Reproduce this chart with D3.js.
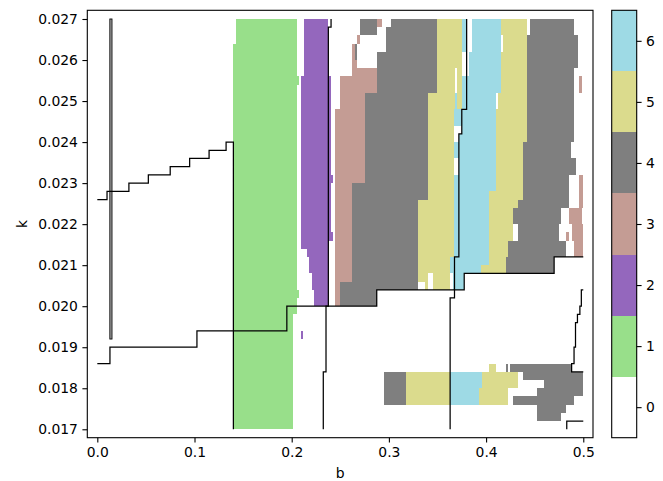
<!DOCTYPE html>
<html><head><meta charset="utf-8">
<script src="https://cdn.jsdelivr.net/npm/d3@7"></script>
<style>body{margin:0;background:#fff}svg text{font-family:"DejaVu Sans",sans-serif;font-size:13.9px;fill:#000}</style>
</head><body><svg id="c" width="663" height="481"></svg>
<script>
// ---- data ----
const levelColors = ["#ffffff","#98df8a","#9467bd","#c49c94","#7f7f7f","#dbdb8d","#9edae5"];
const levelLabels = ["0","1","2","3","4","5","6"];
const xTicks = [0.0,0.1,0.2,0.3,0.4,0.5];
const yTicks = [0.017,0.018,0.019,0.020,0.021,0.022,0.023,0.024,0.025,0.026,0.027];
// cells: [b0, b1, kLow, kHigh]
const level1 = [
 [0.1425,0.205,0.0264,0.0270],[0.14,0.205,0.0200,0.0264],[0.205,0.2075,0.0254,0.0256],
 [0.205,0.2075,0.0202,0.0204],[0.14,0.205,0.0198,0.0200],[0.14,0.2015,0.0170,0.0198]
];
const level2 = [
 [0.2125,0.237,0.0256,0.0270],[0.21,0.237,0.0214,0.0256],[0.2155,0.237,0.0212,0.0214],
 [0.2175,0.237,0.0208,0.0212],[0.2205,0.237,0.0204,0.0208],[0.223,0.237,0.0200,0.0204],
 [0.237,0.2405,0.0218,0.0256],[0.237,0.2425,0.0230,0.0232],[0.2375,0.2425,0.0216,0.0218],
 [0.21,0.2115,0.0192,0.0194]
];
const level3 = [
 [0.2875,0.2925,0.0268,0.0270],[0.2675,0.27,0.0264,0.0266],[0.2625,0.2675,0.0258,0.0264],
 [0.2625,0.2875,0.0256,0.0258],[0.25,0.2875,0.0252,0.0256],[0.25,0.275,0.0248,0.0252],
 [0.245,0.275,0.0230,0.0248],[0.245,0.2625,0.0206,0.0230],[0.245,0.25,0.0200,0.0206],
 [0.496,0.4985,0.0252,0.0256],[0.496,0.5,0.0224,0.0232],[0.4855,0.4985,0.0220,0.0224],
 [0.488,0.5,0.0216,0.0220],[0.4825,0.4855,0.0216,0.0218],[0.4905,0.5,0.0212,0.0216]
];
const level4 = [
 [0.27,0.2875,0.0266,0.0270],[0.3025,0.35,0.0268,0.0270],[0.2975,0.35,0.0262,0.0268],
 [0.2875,0.35,0.0252,0.0262],[0.265,0.2675,0.0260,0.0264],[0.275,0.34,0.0230,0.0252],
 [0.2625,0.34,0.0226,0.0230],[0.2625,0.33,0.0206,0.0226],[0.25,0.33,0.0204,0.0206],
 [0.25,0.2875,0.0200,0.0204],
 [0.445,0.49,0.0266,0.0270],[0.4425,0.495,0.0258,0.0266],[0.4425,0.49,0.0240,0.0258],
 [0.4375,0.4875,0.0236,0.0240],[0.4375,0.4925,0.0232,0.0236],[0.4375,0.4855,0.0226,0.0232],
 [0.4325,0.4855,0.0224,0.0226],[0.4275,0.4775,0.0220,0.0224],[0.4325,0.475,0.0216,0.0220],
 [0.4225,0.4825,0.0212,0.0216],[0.42,0.47,0.0208,0.0212],
 [0.295,0.3175,0.0176,0.0184],[0.42,0.4225,0.0184,0.0186],[0.425,0.4875,0.0184,0.0186],
 [0.4375,0.5,0.0182,0.0184],[0.46,0.5,0.0180,0.0182],[0.4525,0.5,0.0178,0.0180],
 [0.4275,0.49,0.0176,0.0178],[0.4525,0.4825,0.0174,0.0176],[0.4525,0.4775,0.0172,0.0174]
];
const level5 = [
 [0.35,0.375,0.0258,0.0270],[0.35,0.368,0.0252,0.0258],[0.3705,0.375,0.0252,0.0258],
 [0.34,0.368,0.0248,0.0252],[0.3705,0.375,0.0248,0.0252],[0.34,0.3675,0.0226,0.0248],
 [0.33,0.3675,0.0212,0.0226],[0.33,0.3625,0.0208,0.0212],[0.33,0.34,0.0206,0.0208],
 [0.345,0.3625,0.0206,0.0208],[0.3375,0.34,0.0204,0.0206],[0.345,0.3625,0.0204,0.0206],
 [0.415,0.4425,0.0266,0.0270],[0.4175,0.4425,0.0262,0.0266],[0.415,0.4425,0.0252,0.0262],
 [0.4125,0.4425,0.0248,0.0252],[0.41,0.4425,0.0240,0.0248],[0.41,0.4375,0.0228,0.0240],
 [0.4025,0.4375,0.0226,0.0228],[0.4025,0.4325,0.0224,0.0226],[0.4025,0.4275,0.0216,0.0224],
 [0.4025,0.4225,0.0212,0.0216],[0.4025,0.42,0.0210,0.0212],[0.395,0.42,0.0208,0.0210],
 [0.3175,0.3625,0.0176,0.0184],[0.3955,0.4325,0.0182,0.0184],[0.3955,0.4325,0.0180,0.0182],
 [0.393,0.4225,0.0176,0.0180],[0.4025,0.41,0.0184,0.0186]
];
const level6 = [
 [0.375,0.38,0.0262,0.0270],[0.385,0.415,0.0262,0.0270],[0.3825,0.415,0.0256,0.0262],
 [0.375,0.38,0.0252,0.0256],[0.38,0.415,0.0252,0.0256],[0.368,0.3705,0.0248,0.0252],
 [0.375,0.41,0.0248,0.0252],[0.375,0.41,0.0242,0.0248],[0.372,0.41,0.0228,0.0242],
 [0.372,0.4025,0.0212,0.0228],[0.3625,0.4025,0.0210,0.0212],[0.3625,0.395,0.0208,0.0210],
 [0.366,0.3775,0.0204,0.0208],[0.3675,0.375,0.0244,0.0248],[0.3675,0.372,0.0236,0.0240],
 [0.3675,0.372,0.0212,0.0232],
 [0.3625,0.3955,0.0180,0.0184],[0.3625,0.393,0.0176,0.0180]
];
// boundary lines: [b, k] vertices
const lineB = [[0,0.0226],[0.01,0.0228],[0.0325,0.0230],[0.0525,0.0232],[0.075,0.0234],[0.095,0.0236],[0.115,0.0238],[0.1325,0.0240],[0.14,0.0170]];
const lineC = [[0,0.0186],[0.013,0.0190],[0.1025,0.0194],[0.195,0.0200],[0.2875,0.0204],[0.3775,0.0208],[0.47,0.0212],[0.5,0.0212]];
const lineD = [[0.38,0.027],[0.375,0.0248],[0.372,0.0242],[0.3675,0.0212],[0.363,0.0202],[0.363,0.017]];
const lineE = [[0.2405,0.027],[0.2377,0.0268],[0.2353,0.0200],[0.2325,0.0184],[0.2325,0.017]];
const lineF = [[0.5,0.0204],[0.498,0.0204],[0.4965,0.0200],[0.494,0.0198],[0.492,0.0196],[0.4905,0.0190],[0.488,0.0186],[0.5,0.0184]];
const lineG = [[0.483,0.017],[0.5,0.0172]];
const lineA = [0.0129,0.0151,0.0192,0.027]; // narrow band: b0,b1,kLow,kHigh

// ---- drawing ----
const svg = d3.select("#c");
const L=87.3,R=593,T=10.3,B=437.7;
const x = d3.scaleLinear().domain([-0.0103,0.51]).range([L,R]);
const y = d3.scaleLinear().domain([0.016795,0.027212]).range([B,T]);

const levels=[null,level1,level2,level3,level4,level5,level6];
const gCells = svg.append("g").attr("shape-rendering","crispEdges");
levels.forEach((arr,v)=>{ if(!arr) return;
  gCells.selectAll(null).data(arr).enter().append("rect")
   .attr("x",d=>x(d[0])).attr("width",d=>x(d[1])-x(d[0]))
   .attr("y",d=>y(d[3])).attr("height",d=>y(d[2])-y(d[3]))
   .attr("fill",levelColors[v]);
});

// line A band (two close edges)
svg.append("rect").attr("x",x(lineA[0])).attr("width",x(lineA[1])-x(lineA[0]))
 .attr("y",y(lineA[3])).attr("height",y(lineA[2])-y(lineA[3]))
 .attr("fill","#b0b0b0").attr("stroke","#000").attr("stroke-width",0.9);

const lgA = d3.line().x(d=>x(d[0])).y(d=>y(d[1])).curve(d3.curveStepAfter);
const lgB = d3.line().x(d=>x(d[0])).y(d=>y(d[1])).curve(d3.curveStepBefore);
[[lineB,lgA],[lineC,lgA],[lineD,lgB],[lineE,lgB],[lineF,lgB],[lineG,lgB]].forEach(([pts,g])=>{
  svg.append("path").attr("d",g(pts)).attr("fill","none").attr("stroke","#000").attr("stroke-width",1.25);
});

// axes
const xAxis = d3.axisBottom(x).tickValues(xTicks).tickFormat(d3.format(".1f")).tickSize(4.9).tickPadding(4.5);
const yAxis = d3.axisLeft(y).tickValues(yTicks).tickFormat(d3.format(".3f")).tickSize(4.9).tickPadding(4.5);
const gx = svg.append("g").attr("transform",`translate(0,${B})`).call(xAxis);
const gy = svg.append("g").attr("transform",`translate(${L},0)`).call(yAxis);
[gx,gy].forEach(g=>{g.select(".domain").remove(); g.selectAll("line").attr("stroke","#000").attr("stroke-width",1.1);
  g.selectAll("text").style("font-family","DejaVu Sans").style("font-size","13.9px").attr("fill","#000");});
svg.append("rect").attr("x",L).attr("y",T).attr("width",R-L).attr("height",B-T)
 .attr("fill","none").attr("stroke","#000").attr("stroke-width",1.1);
svg.append("text").attr("x",(L+R)/2).attr("y",478).attr("text-anchor","middle").text("b");
svg.append("text").attr("transform",`translate(27,${(T+B)/2}) rotate(-90)`).attr("text-anchor","middle").text("k");

// colorbar
const CL=611.7,CR=636.7;
const cy = d3.scaleLinear().domain([-0.5,6.5]).range([B,T]);
svg.append("g").selectAll("rect").data(levelColors).enter().append("rect")
 .attr("x",CL).attr("width",CR-CL).attr("y",(d,i)=>cy(i+0.5)).attr("height",(d,i)=>cy(i-0.5)-cy(i+0.5))
 .attr("fill",d=>d).attr("shape-rendering","crispEdges");
svg.append("rect").attr("x",CL).attr("y",T).attr("width",CR-CL).attr("height",B-T)
 .attr("fill","none").attr("stroke","#000").attr("stroke-width",1.1);
const cAxis = d3.axisRight(cy).tickValues(d3.range(7)).tickFormat((d,i)=>levelLabels[i]).tickSize(4.9).tickPadding(4.5);
const gc = svg.append("g").attr("transform",`translate(${CR},0)`).call(cAxis);
gc.select(".domain").remove();
gc.selectAll("line").attr("stroke","#000").attr("stroke-width",1.1);
gc.selectAll("text").style("font-family","DejaVu Sans").style("font-size","13.9px").attr("fill","#000");
</script></body></html>
